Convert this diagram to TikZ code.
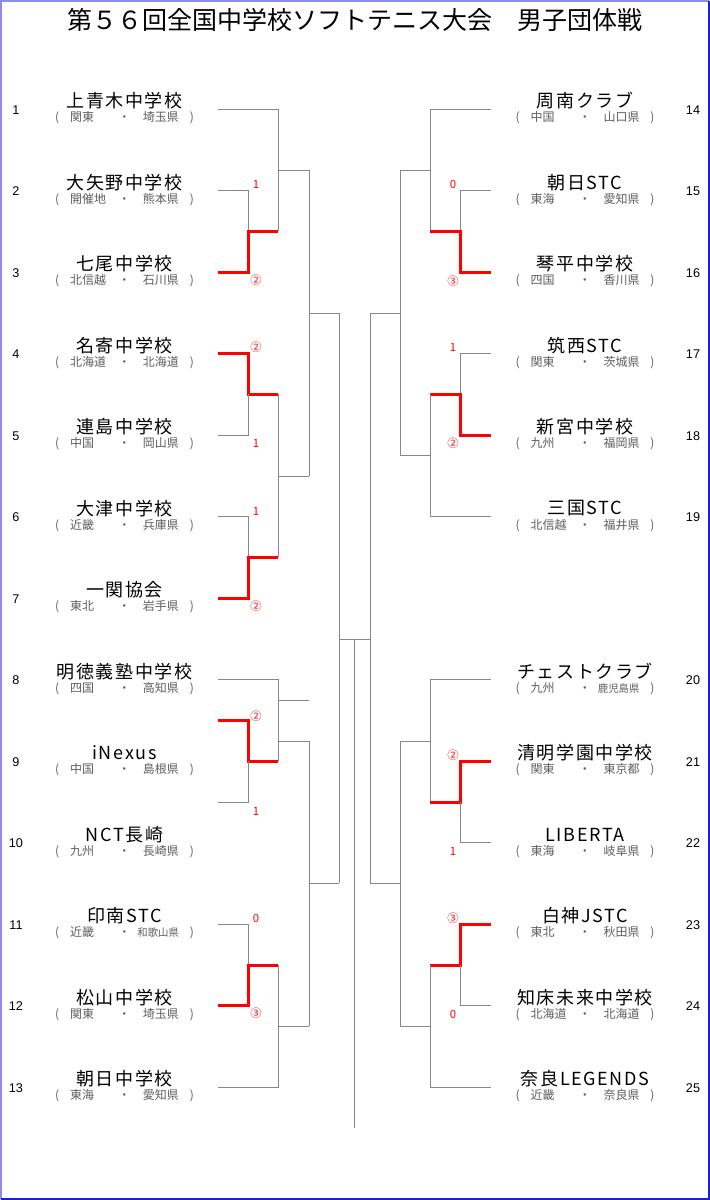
\documentclass[tikz,border=0pt]{standalone}
\usepackage{fontspec}
\newfontfamily\jp{Noto Sans CJK JP}
\newfontfamily\jpnom[LetterSpace=9]{Noto Sans CJK JP}
\newfontfamily\chiffres{Liberation Sans}
\definecolor{cadreclair}{RGB}{140,140,235}
\definecolor{cadrefonce}{RGB}{30,30,220}
\definecolor{gristrait}{RGB}{135,135,135}
\definecolor{grisprov}{RGB}{95,95,95}

% ligne ( région ・ préfecture )
\newcommand{\provenance}[2]{\makebox[11.25pt][l]{(}\makebox[35.25pt][l]{#1}\makebox[11.25pt][c]{・}\makebox[35.25pt][r]{#2}\makebox[11.25pt][r]{)}}
\newcommand{\serre}[1]{{\fontsize{7.8pt}{10pt}\selectfont #1}}

\begin{document}
\begin{tikzpicture}[x=0.75pt, y=-0.75pt]
% définition des styles
\tikzstyle{titre}=[font=\jp\fontsize{18.75pt}{22pt}\selectfont, inner sep=0pt]
\tikzstyle{nom}=[font=\jpnom\fontsize{13.5pt}{16pt}\selectfont, inner sep=0pt]
\tikzstyle{prov}=[font=\jp\fontsize{9pt}{11pt}\selectfont, text=grisprov, inner sep=0pt]
\tikzstyle{numero}=[font=\chiffres\fontsize{9.5pt}{11pt}\selectfont, inner sep=0pt]
\tikzstyle{score}=[font=\jp\fontsize{8.5pt}{10pt}\selectfont, text=red, inner sep=0pt]
\tikzstyle{trait}=[draw=gristrait, line width=0.75pt]
\tikzstyle{gagnant}=[draw=red, line width=2.25pt]

% le cadre
\fill[white] (0,0) rectangle (710,1200);
\draw[line width=1.5pt, draw=cadreclair] (1,1199) -- (1,1) -- (709,1);
\draw[line width=1.5pt, draw=cadrefonce] (708.5,1) -- (708.5,1198.5) -- (1,1198.5);

% le titre
\node[titre] (titre) at (355,20) {第５６回全国中学校ソフトテニス大会　男子団体戦};

% les équipes à gauche
\foreach \n/\y/\equipe/\reg/\prf in {
  1/109/上青木中学校/関東/埼玉県,
  2/190.5/大矢野中学校/開催地/熊本県,
  3/272/七尾中学校/北信越/石川県,
  4/353.5/名寄中学校/北海道/北海道,
  5/435/連島中学校/中国/岡山県,
  6/516.5/大津中学校/近畿/兵庫県,
  7/598/一関協会/東北/岩手県,
  8/679.5/明徳義塾中学校/四国/高知県,
  9/761/iNexus/中国/島根県,
  10/842.5/NCT長崎/九州/長崎県,
  11/924/印南STC/近畿/\serre{和歌山県},
  12/1005.5/松山中学校/関東/埼玉県,
  13/1087/朝日中学校/東海/愛知県}
{
  \node[nom] (nom\n) at (124.5,\y-8) {\equipe};
  \node[prov] (prov\n) at (124.5,\y+9) {\provenance{\reg}{\prf}};
  \node[numero] (num\n) at (16,\y+1) {\n};
}

% les équipes à droite
\foreach \n/\y/\equipe/\reg/\prf in {
  14/109/周南クラブ/中国/山口県,
  15/190.5/朝日STC/東海/愛知県,
  16/272/琴平中学校/四国/香川県,
  17/353.5/筑西STC/関東/茨城県,
  18/435/新宮中学校/九州/福岡県,
  19/516.5/三国STC/北信越/福井県,
  20/679.5/チェストクラブ/九州/\serre{鹿児島県},
  21/761/清明学園中学校/関東/東京都,
  22/842.5/LIBERTA/東海/岐阜県,
  23/924/白神JSTC/東北/秋田県,
  24/1005.5/知床未来中学校/北海道/北海道,
  25/1087/奈良LEGENDS/近畿/奈良県}
{
  \node[nom] (nom\n) at (585,\y-8) {\equipe};
  \node[prov] (prov\n) at (585,\y+9) {\provenance{\reg}{\prf}};
  \node[numero] (num\n) at (693,\y+1) {\n};
}

% le tableau, côté gauche
\draw[trait] (218,109) -- (278,109) -- (278,231);
\draw[trait] (218,190.5) -- (248,190.5) -- (248,231);
\draw[gagnant] (218,272) -- (248,272) -- (248,231) -- (278,231);
\draw[trait] (278,170) -- (309,170);
\draw[gagnant] (218,353.5) -- (248,353.5) -- (248,394) -- (278,394);
\draw[trait] (218,435) -- (248,435) -- (248,394);
\draw[trait] (218,516.5) -- (248,516.5) -- (248,557);
\draw[gagnant] (218,598) -- (248,598) -- (248,557) -- (278,557);
\draw[trait] (278,394) -- (278,557);
\draw[trait] (278,476) -- (309,476);
\draw[trait] (309,170) -- (309,476);
\draw[trait] (309,313) -- (339,313);
\draw[trait] (218,679.5) -- (278,679.5) -- (278,761);
\draw[trait] (278,700) -- (309,700);
\draw[trait] (278,741) -- (309,741);
\draw[gagnant] (218,720) -- (248,720) -- (248,761) -- (278,761);
\draw[trait] (218,802) -- (248,802) -- (248,761);
\draw[trait] (218,924) -- (248,924) -- (248,965);
\draw[gagnant] (218,1005.5) -- (248,1005.5) -- (248,965) -- (278,965);
\draw[trait] (218,1087) -- (278,1087) -- (278,965);
\draw[trait] (278,1026) -- (309,1026);
\draw[trait] (309,741) -- (309,1026);
\draw[trait] (309,883) -- (339,883);
\draw[trait] (339,313) -- (339,883);

% le tableau, côté droit
\draw[trait] (491,109) -- (430,109) -- (430,231);
\draw[trait] (491,190.5) -- (460,190.5) -- (460,231);
\draw[gagnant] (491,272) -- (460,272) -- (460,231) -- (430,231);
\draw[trait] (430,170) -- (400,170);
\draw[trait] (491,353.5) -- (460,353.5) -- (460,394);
\draw[gagnant] (491,435) -- (460,435) -- (460,394) -- (430,394);
\draw[trait] (491,516.5) -- (430,516.5) -- (430,394);
\draw[trait] (430,455) -- (400,455);
\draw[trait] (400,170) -- (400,455);
\draw[trait] (400,313) -- (370,313);
\draw[trait] (491,679.5) -- (430,679.5) -- (430,802);
\draw[gagnant] (491,761) -- (460,761) -- (460,802) -- (430,802);
\draw[trait] (491,842.5) -- (460,842.5) -- (460,802);
\draw[trait] (430,741) -- (400,741);
\draw[gagnant] (491,924) -- (460,924) -- (460,965) -- (430,965);
\draw[trait] (491,1005.5) -- (460,1005.5) -- (460,965);
\draw[trait] (491,1087) -- (430,1087) -- (430,965);
\draw[trait] (430,1026) -- (400,1026);
\draw[trait] (400,741) -- (400,1026);
\draw[trait] (400,883) -- (370,883);
\draw[trait] (370,313) -- (370,883);

% la finale
\draw[trait] (339,639) -- (370,639);
\draw[trait] (354.5,639) -- (354.5,1128);

% les scores
\foreach \x/\y/\s [count=\i] in {
  256/184/1, 256/280.5/②, 256/347/②, 256/443/1, 256/511/1, 256/606/②,
  256/716/②, 256/811/1, 256/918/0, 256/1013/③,
  453/184/0, 453/281/③, 453/347/1, 453/443/②,
  453/755/②, 453/851/1, 453/918/③, 453/1014/0}
  \node[score] (score\i) at (\x,\y) {\s};
\end{tikzpicture}
\end{document}
